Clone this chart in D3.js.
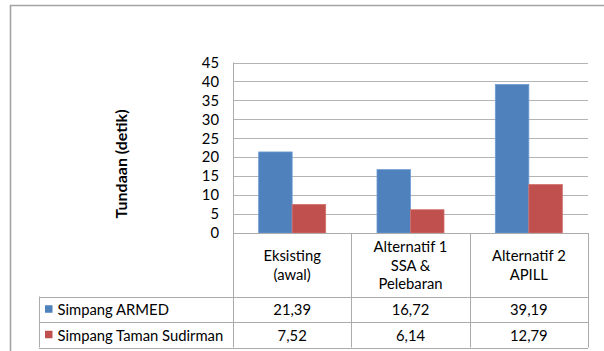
<!DOCTYPE html>
<html>
<head>
<meta charset="utf-8">
<script src="https://cdn.jsdelivr.net/npm/d3@7/dist/d3.min.js"></script>
<style>
  html, body { margin: 0; padding: 0; background: #fff; }
  svg { display: block; }
  text { font-family: Lato, "Open Sans", sans-serif; fill: #000; }
</style>
</head>
<body>
<svg id="chart" width="604" height="351"></svg>
<script>
// Delay per intersection scenario (seconds)
const categories = [
  ["Eksisting", "(awal)"],
  ["Alternatif 1", "SSA &", "Pelebaran"],
  ["Alternatif 2", "APILL"]
];
const seriesNames = ["Simpang ARMED", "Simpang Taman Sudirman"];
const armed = [21.39, 16.72, 39.19];
const tamanSudirman = [7.52, 6.14, 12.79];
const yTicks = [0, 5, 10, 15, 20, 25, 30, 35, 40, 45];
const yTitle = "Tundaan (detik)";

const seriesValues = [armed, tamanSudirman];
const colors = ["#4F81BD", "#C0504D"];
const strokes = ["#6d9ad3", "#d26f6c"];

const svg = d3.select("#chart");
const fontSize = 14.8;

// Outer frame
svg.append("path")
  .attr("d", "M10.5,351 V5.5 H604")
  .attr("fill", "none")
  .attr("stroke", "#a3a3a3")
  .attr("stroke-width", 1.6);

const plot = { left: 233, right: 588, top: 62.5, bottom: 233 };
const tableLeft = 39, rowTop = 296.5, rowH = 25.5;

const catKeys = categories.map((c, i) => i);
const x = d3.scaleBand().domain(catKeys).range([plot.left, plot.right]).paddingInner(0).paddingOuter(0);
const xs = d3.scaleBand().domain(d3.range(seriesNames.length)).range([0, x.bandwidth()]).paddingInner(0).paddingOuter(0.766);
const y = d3.scaleLinear().domain([0, 45]).range([plot.bottom, plot.top]);

// Gridlines
svg.append("g")
  .selectAll("line")
  .data(yTicks.filter(t => t > 0))
  .join("line")
  .attr("x1", plot.left).attr("x2", plot.right)
  .attr("y1", d => Math.round(y(d)) + 0.5).attr("y2", d => Math.round(y(d)) + 0.5)
  .attr("stroke", "#b4b4b4").attr("stroke-width", 1);

// Y axis labels
const yAxis = d3.axisLeft(y).tickValues(yTicks).tickSize(0).tickPadding(14);
const yg = svg.append("g").attr("transform", `translate(${plot.left},0)`).call(yAxis);
yg.select(".domain").remove();
yg.selectAll("text").attr("font-size", fontSize).attr("font-family", "Lato, sans-serif").attr("fill", "#000");

// Y title
svg.append("text")
  .attr("transform", `translate(120,164) rotate(-90)`)
  .attr("text-anchor", "middle")
  .attr("dominant-baseline", "central")
  .attr("font-weight", "bold")
  .attr("font-size", 16)
  .text(yTitle);

// Bars
seriesValues.forEach((vals, s) => {
  svg.append("g")
    .selectAll("rect")
    .data(vals)
    .join("rect")
    .attr("x", (d, i) => x(i) + xs(s))
    .attr("width", xs.bandwidth())
    .attr("y", d => y(d))
    .attr("height", d => y(0) - y(d))
    .attr("fill", colors[s])
    .attr("stroke", strokes[s])
    .attr("stroke-width", 0.8);
});

// Data table lines
const lineColor = "#ababab";
const tbl = svg.append("g").attr("stroke", lineColor).attr("stroke-width", 1).attr("fill", "none");
const tableBottom = rowTop + rowH * 2;
// horizontal: axis baseline / header top
tbl.append("line").attr("x1", plot.left).attr("x2", plot.right).attr("y1", plot.bottom + 0.5).attr("y2", plot.bottom + 0.5);
[rowTop, rowTop + rowH, tableBottom].forEach(yy => {
  tbl.append("line").attr("x1", tableLeft).attr("x2", plot.right).attr("y1", Math.round(yy) + 0.5).attr("y2", Math.round(yy) + 0.5);
});
// vertical: axis line and column separators
tbl.append("line").attr("x1", plot.left + 0.5).attr("x2", plot.left + 0.5).attr("y1", plot.top).attr("y2", tableBottom);
catKeys.forEach(i => {
  const xx = Math.round(x(i) + x.bandwidth()) + 0.5;
  tbl.append("line").attr("x1", xx).attr("x2", xx).attr("y1", plot.bottom).attr("y2", tableBottom);
});
tbl.append("line").attr("x1", tableLeft + 0.5).attr("x2", tableLeft + 0.5).attr("y1", rowTop).attr("y2", tableBottom);

// Header category labels
const lineH = 18.7;
const headerMid = (plot.bottom + rowTop) / 2;
categories.forEach((lines, i) => {
  const t = svg.append("text")
    .attr("text-anchor", "middle")
    .attr("font-size", fontSize);
  lines.forEach((ln, k) => {
    t.append("tspan")
      .attr("x", x(i) + x.bandwidth() / 2)
      .attr("y", headerMid + (k - (lines.length - 1) / 2) * lineH)
      .attr("dominant-baseline", "central")
      .text(ln);
  });
});

// Data rows: legend key + values
const fmt = v => d3.format(".2f")(v).replace(".", ",");
seriesNames.forEach((name, s) => {
  const cy = rowTop + rowH * s + rowH / 2;
  svg.append("rect")
    .attr("x", 45).attr("y", cy - 4).attr("width", 7.5).attr("height", 7.5)
    .attr("fill", colors[s]);
  svg.append("text")
    .attr("x", 57.5).attr("y", cy)
    .attr("dominant-baseline", "central")
    .attr("font-size", fontSize)
    .text(name);
  seriesValues[s].forEach((v, i) => {
    svg.append("text")
      .attr("x", x(i) + x.bandwidth() / 2).attr("y", cy)
      .attr("text-anchor", "middle")
      .attr("dominant-baseline", "central")
      .attr("font-size", fontSize)
      .text(fmt(v));
  });
});
</script>
</body>
</html>
